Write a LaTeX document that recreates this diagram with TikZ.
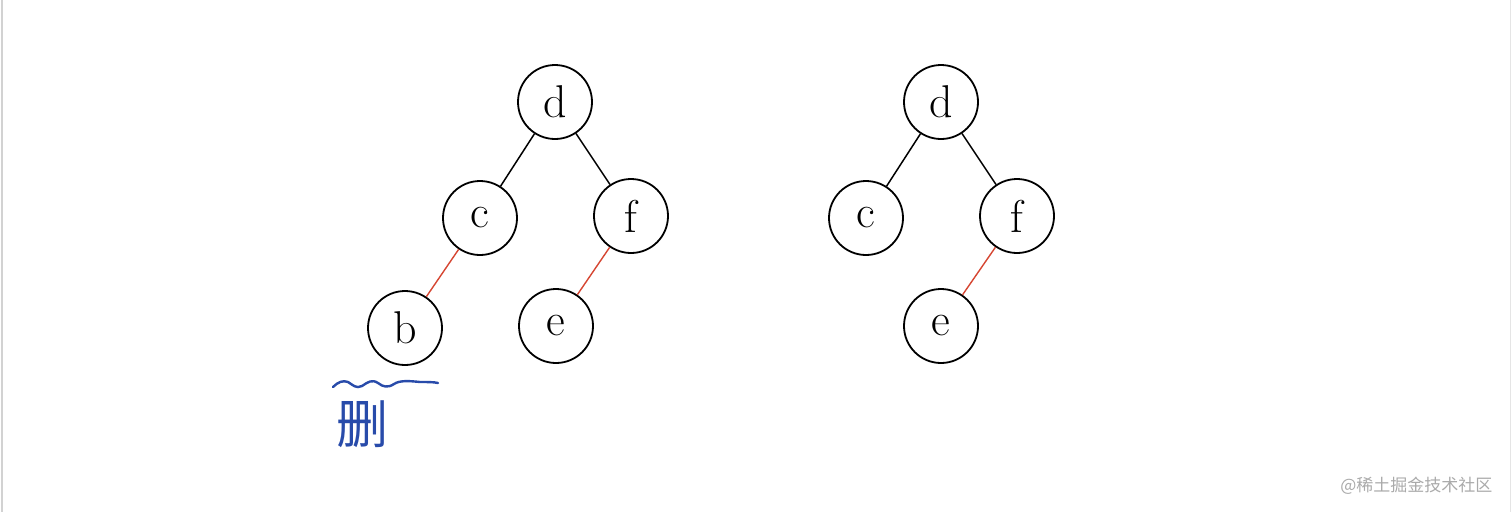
\documentclass[tikz,border=0pt]{standalone}
\usepackage{fontspec}
\newfontfamily\cjk{Noto Sans CJK SC}
\definecolor{edgered}{RGB}{214,70,50}
\definecolor{penblue}{RGB}{40,75,170}
\definecolor{wmgray}{RGB}{170,170,170}
\begin{document}
\begin{tikzpicture}[x=1pt,y=-1pt,
  tnode/.style={circle,draw=black,line width=1.8pt,minimum size=74pt,inner sep=0pt,font=\fontsize{46}{46}\selectfont},
  blk/.style={draw=black,line width=1.5pt},
  redl/.style={draw=edgered,line width=1.4pt}]
\useasboundingbox (0,0) rectangle (1512,512);
\fill[white] (0,0) rectangle (1512,512);
\draw[gray!35,line width=1.5pt] (2,0) -- (2,512);
\draw[gray!20,line width=1pt] (1510,0) -- (1510,512);
% left tree
\node[tnode] (d1) at (555,102) {d};
\node[tnode] (c1) at (480,218) {c};
\node[tnode] (f1) at (631,216) {f};
\node[tnode] (b1) at (405,328) {b};
\node[tnode] (e1) at (556,326) {e};
\draw[blk] (d1) -- (c1);
\draw[blk] (d1) -- (f1);
\draw[redl] (c1) -- (b1);
\draw[redl] (f1) -- (e1);
% right tree
\node[tnode] (d2) at (941,102) {d};
\node[tnode] (c2) at (866,218) {c};
\node[tnode] (f2) at (1017,216) {f};
\node[tnode] (e2) at (941,326) {e};
\draw[blk] (d2) -- (c2);
\draw[blk] (d2) -- (f2);
\draw[redl] (f2) -- (e2);
% annotation
\coordinate (w1) at (333,387);
\coordinate (w2) at (438,383);
\draw[penblue,line width=2.4pt,line cap=round] (w1) .. controls (338,382) and (343,380) .. (348,382)
  .. controls (353,385) and (356,389) .. (362,386)
  .. controls (368,382) and (372,379) .. (378,383)
  .. controls (383,387) and (388,388) .. (394,384)
  .. controls (400,380) and (410,381) .. (420,382) .. controls (428,382) and (434,382) .. (w2);
\node[penblue,font=\cjk\fontsize{52}{52}\selectfont] (del) at (362,424) {删};
\node[wmgray,font=\cjk\fontsize{17}{17}\selectfont,anchor=east] (wm) at (1496,486) {@稀土掘金技术社区};
\end{tikzpicture}
\end{document}
